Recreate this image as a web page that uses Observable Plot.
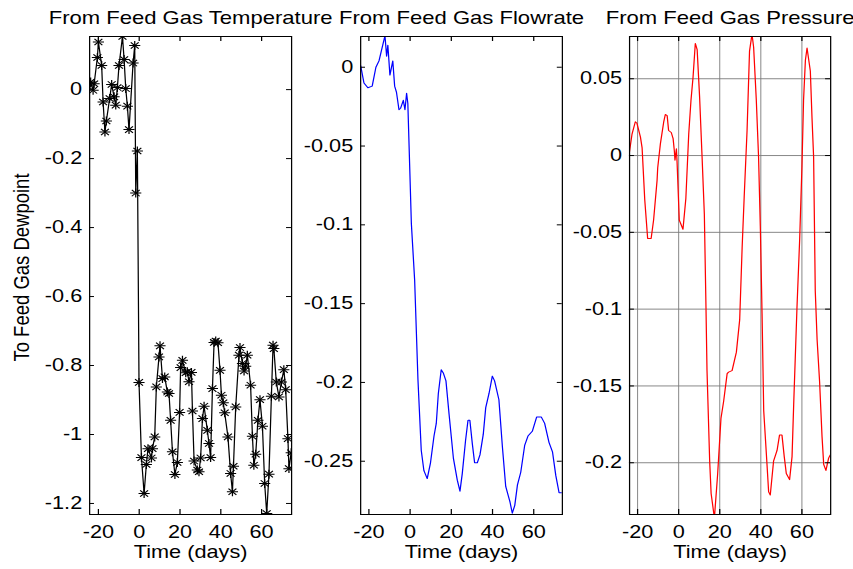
<!DOCTYPE html>
<html>
<head>
<meta charset="utf-8">
<script src="https://cdn.jsdelivr.net/npm/d3@7"></script>
<script src="https://cdn.jsdelivr.net/npm/@observablehq/plot@0.6"></script>
<style>
  html, body { margin: 0; padding: 0; background: #fff; }
  #wrap { position: relative; width: 853px; height: 569px; overflow: hidden; background: #fff; }
  #inner { position: absolute; left: 0; top: 0; width: 688px; height: 569px; transform: scaleX(1.2398); transform-origin: 0 0; }
  #inner svg { position: absolute; left: 0; top: 0; }
</style>
</head>
<body>
<div id="wrap"><div id="inner"></div></div>
<script>
// ---- Data ----
const xTicks = [-20, 0, 20, 40, 60];
const titles = ["From Feed Gas Temperature", "From Feed Gas Flowrate", "From Feed Gas Pressure"];
const yLabel = "To Feed Gas Dewpoint";
const xLabel = "Time (days)";

const tempTicks = [0, -0.2, -0.4, -0.6, -0.8, -1, -1.2];
const flowTicks = [0, -0.05, -0.1, -0.15, -0.2, -0.25];
const presTicks = [0.05, 0, -0.05, -0.1, -0.15, -0.2];

const tempDays = [-23.8,-22.6,-22.1,-20.5,-20,-18.4,-17.7,-16.8,-16.1,-14.5,-13.5,-12.3,-11.5,-10.7,-9.9,-8.2,-7.4,-6.6,-5.8,-5.0,-3.0,-2.2,-1.7,-0.9,-0.1,1.1,2.4,3.5,4.3,6.0,6.5,7.6,8.4,9.7,10.2,11.4,12.5,13.8,14.6,15.4,16.3,17.5,18.7,19.8,20.3,21.2,22.8,23.6,24.4,25.6,26.1,26.9,28.5,29.3,30.1,31.0,31.8,33.4,34.2,35.0,35.9,36.7,37.5,38.6,39.6,40.3,41.2,41.9,43.5,44.8,45.7,46.2,47.3,48.9,49.4,50.6,51.4,52.2,53.0,54.6,55.5,56.2,57.1,58.2,59.2,60.4,61.5,62.5,63.6,64.8,65.6,66.0,67.2,68.5,69.7,70.9,71.8,72.9,73.4,74.5];
const tempValues = [0.022,-0.002,0.017,0.093,0.138,0.07,-0.036,-0.123,-0.091,-0.026,0.015,-0.021,-0.045,0.006,0.07,0.154,0.087,0.003,-0.048,-0.116,0.077,0.128,-0.30,-0.178,-0.849,-1.067,-1.171,-1.087,-1.041,-1.068,-1.041,-1.007,-0.862,-0.775,-0.743,-0.838,-0.833,-0.877,-0.881,-0.959,-1.050,-1.116,-1.081,-0.936,-0.806,-0.785,-0.821,-0.818,-0.847,-0.820,-0.932,-1.077,-1.103,-1.108,-1.068,-0.954,-0.918,-0.988,-1.026,-1.067,-0.867,-0.733,-0.729,-0.734,-0.814,-0.886,-0.908,-0.937,-1.007,-1.113,-1.166,-1.092,-0.920,-0.770,-0.748,-0.794,-0.816,-0.802,-0.770,-0.857,-1.005,-1.089,-1.057,-0.959,-0.899,-0.976,-1.142,-1.229,-1.115,-0.889,-0.741,-0.751,-0.848,-0.891,-0.848,-0.812,-0.870,-1.012,-1.099,-1.053];

const flowDays = [-24.0,-22.4,-20.5,-18.4,-16.6,-15.1,-12.2,-11.4,-10.8,-9.8,-8.4,-7.5,-6.6,-5.4,-4.6,-3.3,-2.5,-1.7,-1.1,0.0,0.6,2.2,3.8,5.4,6.7,8.3,9.9,11.6,12.7,13.7,15.1,16.1,17.4,18.9,21.0,22.9,24.2,25.3,26.9,28.1,29.0,30.2,31.3,32.6,33.9,35.5,36.7,38.3,39.9,41.0,43.1,44.8,46.4,48.5,49.6,50.8,52.1,53.7,55.6,57.2,59.3,61.4,63.7,65.3,67.4,69.1,70.7,72.3,73.9];
const flowValues = [0.001,-0.010,-0.013,-0.012,0.000,0.004,0.020,0.007,0.014,-0.005,0.004,-0.012,-0.016,-0.027,-0.026,-0.021,-0.027,-0.0165,-0.023,-0.072,-0.099,-0.135,-0.198,-0.243,-0.256,-0.261,-0.251,-0.234,-0.226,-0.207,-0.192,-0.194,-0.199,-0.220,-0.248,-0.262,-0.269,-0.258,-0.237,-0.224,-0.224,-0.239,-0.251,-0.251,-0.246,-0.233,-0.216,-0.207,-0.196,-0.199,-0.211,-0.241,-0.266,-0.276,-0.283,-0.278,-0.265,-0.257,-0.240,-0.234,-0.231,-0.222,-0.222,-0.226,-0.238,-0.244,-0.259,-0.270,-0.270];

const presDays = [-24.0,-22.7,-21.1,-20.3,-18.6,-17.8,-16.5,-15.1,-13.4,-12.2,-10.5,-10.2,-8.9,-7.3,-6.5,-5.6,-4.9,-3.6,-2.7,-2.1,-1.8,-1.1,-0.8,0.3,2.1,3.5,4.9,6.0,7.0,8.1,9.0,10.2,11.4,12.5,13.3,13.8,15.1,15.8,17.4,19.0,20.6,21.9,23.6,24.3,26.0,28.1,29.7,30.9,31.9,33.3,34.5,35.7,36.5,37.8,38.9,39.8,40.6,41.4,43.0,43.8,44.6,46.2,47.9,49.1,50.3,51.4,52.4,54.0,55.2,56.0,57.6,58.9,60.0,60.8,61.7,62.5,64.1,64.9,65.7,66.5,67.4,68.6,69.8,70.6,71.7,73.0,73.8];
const presValues = [0.002,0.014,0.022,0.021,0.012,0.005,-0.029,-0.054,-0.054,-0.042,-0.016,-0.008,0.0076,0.0217,0.0267,0.026,0.0163,0.015,0.011,0.003,-0.003,0.0044,-0.0033,-0.042,-0.048,-0.028,0.014,0.036,0.051,0.073,0.069,0.038,-0.001,-0.038,-0.099,-0.140,-0.199,-0.220,-0.236,-0.207,-0.171,-0.160,-0.142,-0.141,-0.140,-0.128,-0.107,-0.060,-0.027,0.0163,0.068,0.079,0.0705,0.036,-0.001,-0.049,-0.103,-0.166,-0.201,-0.219,-0.221,-0.199,-0.192,-0.182,-0.182,-0.196,-0.207,-0.211,-0.196,-0.162,-0.099,-0.055,-0.008,0.036,0.062,0.070,0.055,0.025,-0.001,-0.088,-0.120,-0.147,-0.183,-0.201,-0.205,-0.197,-0.195];

// ---- Layout ----
const W = 688, H = 569, MT = 36, MB = 55;
const FH = H - MT - MB;
const FONT = "'Liberation Sans', Arial, Helvetica, sans-serif";
const fmt = d => String(d);

const panels = [
  {title: titles[0], days: tempDays, values: tempValues, yTicks: tempTicks, yDomain: [-1.232, 0.154], xDomain: [-24.3, 74.7], ml: 71.8, mr: 453.3, color: "black", stars: true, grid: false, ylabel: true},
  {title: titles[1], days: flowDays, values: flowValues, yTicks: flowTicks, yDomain: [-0.2838, 0.0195], xDomain: [-24.0, 73.9], ml: 290.4, mr: 234.9, color: "#0000ff", stars: false, grid: false, ylabel: false},
  {title: titles[2], days: presDays, values: presValues, yTicks: presTicks, yDomain: [-0.2337, 0.0775], xDomain: [-23.9, 74.0], ml: 507.3, mr: 18.5, color: "#ff0000", stars: false, grid: true, ylabel: false}
];

const inner = document.getElementById("inner");
for (const p of panels) {
  const FW = W - p.ml - p.mr;
  const data = p.days.map((t, i) => ({t, v: p.values[i]}));
  const marks = [];
  if (p.grid) {
    marks.push(Plot.gridX(xTicks, {x: d => d, stroke: "#7a7a7a", strokeOpacity: 1, strokeWidth: 0.8}));
    marks.push(Plot.gridY(p.yTicks, {y: d => d, stroke: "#7a7a7a", strokeOpacity: 1, strokeWidth: 0.8}));
  }
  marks.push(Plot.line(data, {x: "t", y: "v", stroke: p.color, strokeWidth: 1, clip: true}));
  if (p.stars) {
    marks.push(Plot.dot(data, {x: "t", y: "v", symbol: "plus", r: 3, stroke: "black", strokeWidth: 1, clip: true}));
    marks.push(Plot.dot(data, {x: "t", y: "v", symbol: "times", r: 3, stroke: "black", strokeWidth: 1, clip: true}));
  }
  // inward tick marks on all four sides
  marks.push(Plot.ruleX(xTicks, {x: d => d, insetTop: FH - 5, stroke: "black"}));
  marks.push(Plot.ruleX(xTicks, {x: d => d, insetBottom: FH - 5, stroke: "black"}));
  marks.push(Plot.ruleY(p.yTicks, {y: d => d, insetRight: FW - 4, stroke: "black"}));
  marks.push(Plot.ruleY(p.yTicks, {y: d => d, insetLeft: FW - 4, stroke: "black"}));
  marks.push(Plot.frame({stroke: "black", strokeWidth: 1}));
  marks.push(Plot.axisX({ticks: xTicks, tickSize: 0, tickPadding: 11, tickFormat: fmt, label: null, fontSize: 17.5}));
  marks.push(Plot.axisY({ticks: p.yTicks, tickSize: 0, tickPadding: 6, tickFormat: fmt, label: null, fontSize: 17.5}));
  marks.push(Plot.text([p.title], {text: d => d, frameAnchor: "top", dy: -25, fontSize: 17.8, fill: "black"}));
  marks.push(Plot.text([xLabel], {text: d => d, frameAnchor: "bottom", dy: 43, fontSize: 17.5, fill: "black"}));
  if (p.ylabel) {
    marks.push(Plot.text([yLabel], {text: d => d, frameAnchor: "left", textAnchor: "middle", dx: -55, dy: -8, rotate: -90, fontSize: 18.5, fill: "black"}));
  }
  const svg = Plot.plot({
    width: W, height: H,
    marginTop: MT, marginBottom: MB, marginLeft: p.ml, marginRight: p.mr,
    x: {domain: p.xDomain},
    y: {domain: p.yDomain},
    style: {fontFamily: FONT, fontSize: "17.5px", background: "transparent", overflow: "visible", color: "black"},
    marks
  });
  inner.appendChild(svg);
}
</script>
</body>
</html>
